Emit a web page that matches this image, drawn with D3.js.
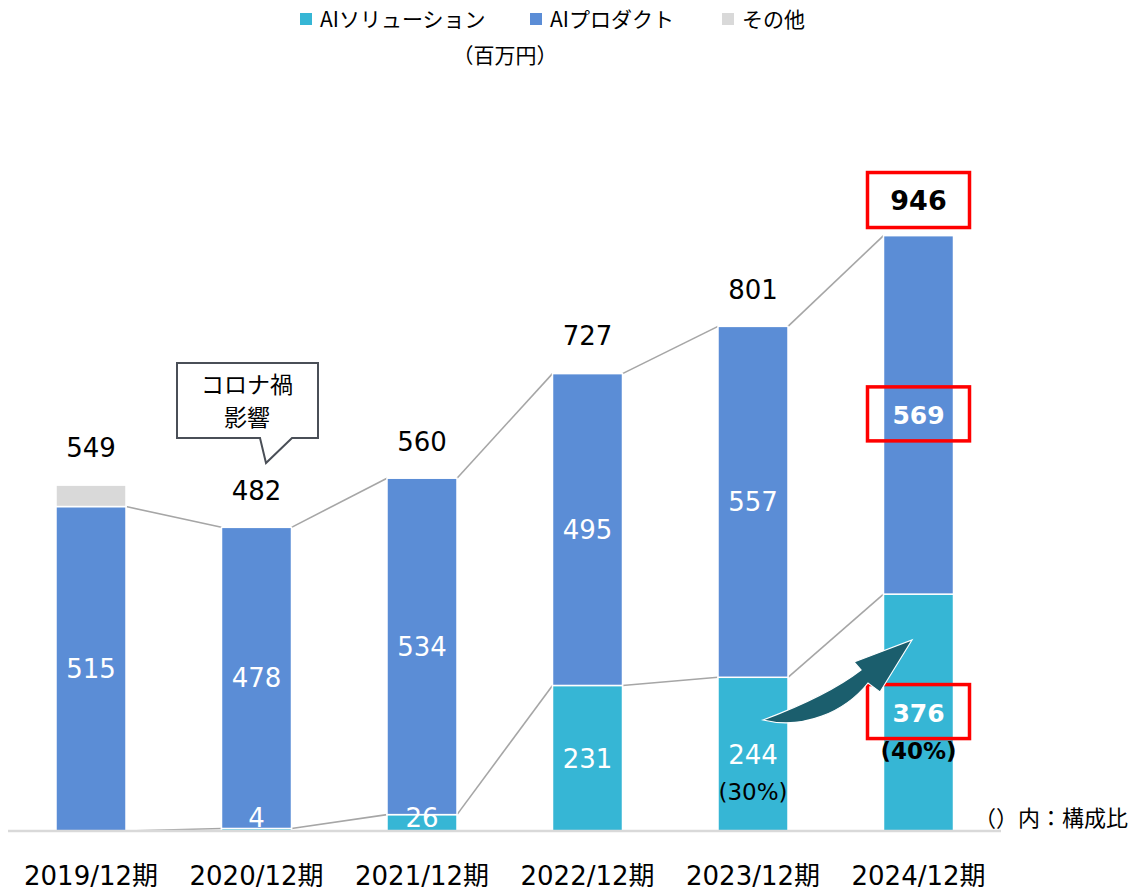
<!DOCTYPE html>
<html><head><meta charset="utf-8">
<script src="https://cdn.jsdelivr.net/npm/d3@7"></script>
<style>
body{margin:0;background:#fff;}
text{font-family:"DejaVu Sans","Noto Sans CJK JP",sans-serif;}
.cjk{font-family:"Noto Sans CJK JP","DejaVu Sans",sans-serif;}
</style></head>
<body><svg id="c" width="1134" height="890"></svg>
<script>
const categories = ["2019/12期","2020/12期","2021/12期","2022/12期","2023/12期","2024/12期"];
const solution = [0, 4, 26, 231, 244, 376];
const product = [515, 478, 534, 495, 557, 569];
const other = [34, 0, 0, 0, 0, 0];
const totals = [549, 482, 560, 727, 801, 946];
const shares = ["", "", "", "", "(30%)", "(40%)"];
const seriesNames = ["AIソリューション", "AIプロダクト", "その他"];
const colors = ["#36b6d5", "#5b8dd6", "#d9d9d9"];

const svg = d3.select("#c");
const x = d3.scaleBand().domain(categories).range([8.25, 1001.25]).paddingInner(0.577).paddingOuter(0.2885);
const y = d3.scaleLinear().domain([0, 1000]).range([831, 201]);
const bw = x.bandwidth();

const rows = categories.map((c, i) => ({cat: c, sol: solution[i], prod: product[i], oth: other[i]}));
const stack = d3.stack().keys(["sol", "prod", "oth"])(rows);

// series lines (solution and product tops)
const lineG = svg.append("g");
[0, 1].forEach(k => {
  for (let i = 0; i < categories.length - 1; i++) {
    lineG.append("line")
      .attr("x1", x(categories[i]) + bw).attr("y1", y(stack[k][i][1]))
      .attr("x2", x(categories[i + 1])).attr("y2", y(stack[k][i + 1][1]))
      .attr("stroke", "#a6a6a6").attr("stroke-width", 1.6);
  }
});

// bars
stack.forEach((s, k) => {
  svg.append("g").selectAll("rect").data(s.filter(d => d[1] > d[0])).join("rect")
    .attr("x", d => x(d.data.cat)).attr("width", bw)
    .attr("y", d => y(d[1])).attr("height", d => y(d[0]) - y(d[1]))
    .attr("fill", colors[k]).attr("stroke", "#fff").attr("stroke-width", 1.5);
});

// axis baseline
svg.append("g").attr("transform", `translate(0,${y(0)})`)
  .call(d3.axisBottom(x).tickSize(0).tickPadding(38).tickSizeOuter(0))
  .call(g => g.select(".domain").attr("stroke", "#d9d9d9").attr("stroke-width", 2.5).attr("d", "M8,0H1001"))
  .call(g => g.selectAll(".tick text").attr("font-size", 26).attr("fill", "#000")
    .style("font-family", '"DejaVu Sans","Noto Sans CJK JP",sans-serif').attr("dy", "0.6em"));

const last = categories.length - 1;
// segment labels
[0, 1].forEach(k => {
  stack[k].forEach((d, i) => {
    const v = d[1] - d[0];
    if (v <= 0) return;
    let cy = (y(d[0]) + y(d[1])) / 2;
    cy = Math.min(cy, y(0) - 13);
    svg.append("text").attr("x", x(d.data.cat) + bw / 2).attr("y", cy).attr("dy", "0.36em")
      .attr("text-anchor", "middle").attr("fill", "#fff")
      .attr("font-size", i === last ? 25 : 26).attr("font-weight", i === last ? "bold" : "normal")
      .text(v);
    if (k === 0 && shares[i]) {
      svg.append("text").attr("x", x(d.data.cat) + bw / 2).attr("y", cy + 38).attr("dy", "0.36em")
        .attr("text-anchor", "middle").attr("fill", "#000")
        .attr("font-size", 23).attr("font-weight", i === last ? "bold" : "normal")
        .text(shares[i]);
    }
    if (i === last) {
      svg.append("rect").attr("x", x(d.data.cat) + bw / 2 - 51).attr("y", cy - 28)
        .attr("width", 102).attr("height", 54).attr("fill", "none")
        .attr("stroke", "#ff0000").attr("stroke-width", 3.5);
    }
  });
});

// total labels
totals.forEach((t, i) => {
  const cx = x(categories[i]) + bw / 2;
  const cy = i === last ? y(t) - 34.5 : y(t) - 37;
  svg.append("text").attr("x", cx).attr("y", cy).attr("dy", "0.36em")
    .attr("text-anchor", "middle").attr("fill", "#000")
    .attr("font-size", i === last ? 27 : 26).attr("font-weight", i === last ? "bold" : "normal")
    .text(t);
  if (i === last) {
    svg.append("rect").attr("x", cx - 51).attr("y", cy - 28).attr("width", 102).attr("height", 55)
      .attr("fill", "none").attr("stroke", "#ff0000").attr("stroke-width", 3.5);
  }
});

// curved arrow
svg.append("path")
  .attr("d", "M763,720 C795,708 835,690 861,670 L854,662 L912,640 L880,692 L868,683 C845,712 803,730 763,720 Z")
  .attr("fill", "#1b5e6d").attr("stroke", "#fff").attr("stroke-width", 1.2);

// callout
svg.append("path")
  .attr("d", "M177,363 H318 V438 H292 L266,463 L260,438 H177 Z")
  .attr("fill", "#fff").attr("stroke", "#4a4f57").attr("stroke-width", 2);
svg.append("text").attr("class", "cjk").attr("x", 247).attr("y", 385).attr("dy", "0.36em")
  .attr("text-anchor", "middle").attr("font-size", 23).attr("fill", "#000").text("コロナ禍");
svg.append("text").attr("class", "cjk").attr("x", 247).attr("y", 418).attr("dy", "0.36em")
  .attr("text-anchor", "middle").attr("font-size", 23).attr("fill", "#000").text("影響");

// note
svg.append("text").attr("class", "cjk").attr("x", 974).attr("y", 818).attr("dy", "0.36em")
  .attr("font-size", 22).attr("fill", "#000").text("（）内：構成比");

// legend
const legX = [300, 530, 722];
seriesNames.forEach((n, k) => {
  svg.append("rect").attr("x", legX[k]).attr("y", 13).attr("width", 12).attr("height", 12).attr("fill", colors[k]);
  svg.append("text").attr("class", "cjk").attr("x", legX[k] + 20).attr("y", 19).attr("dy", "0.36em")
    .attr("font-size", 21).attr("fill", "#000").text(n);
});
svg.append("text").attr("class", "cjk").attr("x", 505).attr("y", 55).attr("dy", "0.36em")
  .attr("text-anchor", "middle").attr("font-size", 21).attr("fill", "#000").text("（百万円）");
</script></body></html>
